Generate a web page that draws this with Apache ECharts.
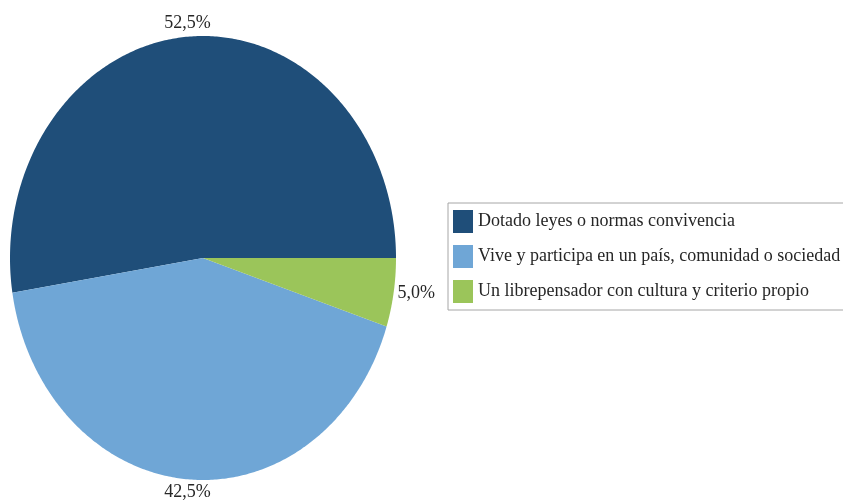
<!doctype html>
<html><head><meta charset="utf-8">
<style>html,body,#chart{margin:0;padding:0;width:843px;height:502px;background:#fff}</style>
</head><body><div id="chart"></div>
<script src="https://cdn.jsdelivr.net/npm/echarts@6/dist/echarts.min.js"></script>
<script>
const categories = ['Dotado leyes o normas convivencia', 'Vive y participa en un país, comunidad o sociedad', 'Un librepensador con cultura y criterio propio'];
const shares = [52.5, 42.5, 5.0];
const labels = ['52,5%', '42,5%', '5,0%'];
const colors = ['#1f4e79', '#6fa6d6', '#9bc55a'];

// the pie in the reference is an ellipse, so draw the slices with a custom series
const cx = 203, cy = 258, rx = 193, ry = 222;
const total = shares.reduce((a, b) => a + b, 0);

function sliceRenderer(idx) {
  return function (params, api) {
    const before = shares.slice(0, idx).reduce((a, b) => a + b, 0);
    const a0 = before / total * 2 * Math.PI;
    const a1 = (before + api.value(0)) / total * 2 * Math.PI;
    const steps = Math.max(8, Math.ceil((a1 - a0) / 0.01));
    const pts = [[cx, cy]];
    for (let i = 0; i <= steps; i++) {
      const t = a0 + (a1 - a0) * i / steps;
      pts.push([cx + rx * Math.cos(t), cy - ry * Math.sin(t)]);
    }
    const mid = (a0 + a1) / 2, ux = Math.cos(mid), uy = -Math.sin(mid), d = 4;
    return {
      type: 'group',
      children: [
        { type: 'polygon', shape: { points: pts }, style: { fill: api.visual('color') } },
        {
          type: 'text',
          x: cx + rx * ux + d * ux, y: cy + ry * uy + d * uy,
          style: {
            text: labels[idx], fill: '#262626', fontFamily: 'Liberation Serif', fontSize: 18,
            align: ux > 0.5 ? 'left' : (ux < -0.5 ? 'right' : 'center'),
            verticalAlign: uy < -0.5 ? 'bottom' : (uy > 0.5 ? 'top' : 'middle')
          }
        }
      ]
    };
  };
}

const chart = echarts.init(document.getElementById('chart'));
chart.setOption({
  animation: false,
  color: colors,
  legend: {
    orient: 'vertical', left: 448, top: 203,
    data: categories.map(n => ({ name: n, icon: 'rect' })),
    itemWidth: 20, itemHeight: 23, itemGap: 12,
    padding: [7, 10, 7, 5],
    borderColor: '#a6a6a6', borderWidth: 1,
    selectedMode: false,
    textStyle: { fontFamily: 'Liberation Serif', fontSize: 18, color: '#262626' }
  },
  series: categories.map((name, i) => ({
    name: name, type: 'custom', coordinateSystem: 'none',
    renderItem: sliceRenderer(i),
    data: [[shares[i]]]
  }))
});
</script></body></html>
